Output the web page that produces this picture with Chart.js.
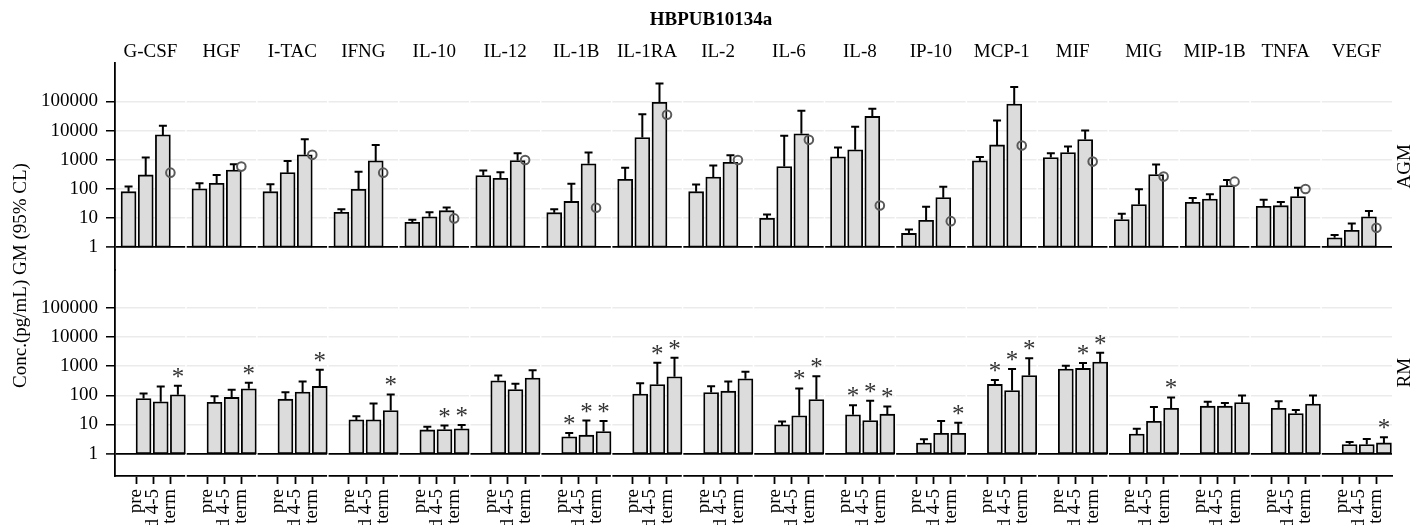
<!DOCTYPE html>
<html><head><meta charset="utf-8">
<script src="https://cdn.jsdelivr.net/npm/chart.js@4.4.1/dist/chart.umd.min.js"></script>
<style>html,body{margin:0;padding:0;background:#fff;} canvas{display:block;}</style>
</head><body>
<canvas id="c" width="1424" height="525"></canvas>
<script>
const chartTitle = 'HBPUB10134a';
const yAxisTitle = 'Conc.(pg/mL) GM (95% CL)';
const categories = ['G-CSF','HGF','I-TAC','IFNG','IL-10','IL-12','IL-1B','IL-1RA','IL-2','IL-6','IL-8','IP-10','MCP-1','MIF','MIG','MIP-1B','TNFA','VEGF'];
const timepoints = ['pre','d 4-5','term'];
const rowLabels = ['AGM','RM'];
const yTickValues = [1,10,100,1000,10000,100000];
const yTickLabels = ['1','10','100','1000','10000','100000'];

// AGM geometric means (pre, d 4-5, term) and upper 95% CL
const agmGM = [[80,300,7100],[100,155,445],[80,360,1470],[15.6,96,910],[7.1,11,17.8],[285,230,935],[15.2,37,720],[213,5750,93000],[80,255,815],[9.7,580,7700],[1250,2180,30500],[2.95,8.3,50],[910,3220,81000],[1180,1770,4930],[8.9,29,310],[34.5,45,129],[25,26.5,54],[2.1,3.8,11]];
const agmUpper = [[120,1180,14500],[155,300,700],[143,910,5040],[20,390,3200],[8.7,15.6,23],[425,370,1660],[20,150,1770],[525,36500,415000],[140,630,1420],[13.3,6600,48000],[2600,13500,56000],[4.06,24.5,119],[1250,22000,310000],[1660,2820,10000],[14,96,680],[48.6,65,200],[42.6,35.5,110],[2.6,6.5,17.3]];
// AGM reference points (circles, at term)
const agmRef = [360,580,1470,360,9.7,980,22.6,35000,980,4800,27,7.8,3080,860,263,177,99,4.6];

// RM geometric means and upper 95% CL
const rmGM = [[78,60,104],[58,85,168],[74,129,202],[14.4,14.4,30],[6.5,6.7,7.1],[316,159,390],[3.8,4.3,5.7],[110,236,435],[125,139,370],[9.7,20,72],[21.4,13.7,22.6],[2.3,5.0,5.0],[237,147,480],[800,840,1380],[4.7,12.9,36],[42.5,42.5,56.8],[36,23.8,50],[2.04,2.04,2.33]];
const rmUpper = [[116,202,213],[94,155,270],[129,300,760],[19.2,52.4,107],[8.3,9.2,9.7],[480,250,720],[5.1,13.7,13.3],[262,1315,1960],[207,300,640],[12.6,172,456],[46,65,41.5],[3.1,13.3,11.4],[334,800,1860],[1040,1280,2900],[7.2,40,85],[60,55,99],[63,31.7,99],[2.5,3.2,3.65]];
// RM significance flags (asterisks)
const rmStar = [[0,0,1],[0,0,1],[0,0,1],[0,0,1],[0,1,1],[0,0,0],[1,1,1],[0,1,1],[0,0,0],[0,1,1],[1,1,1],[0,0,1],[1,1,1],[0,1,1],[0,0,1],[0,0,0],[0,0,0],[0,0,1]];

const FONT = "'Liberation Serif','Times New Roman',serif";
const PANEL = 4.134, FIRST = 1.227;
const Y_MIN = 0.171, Y_MAX = 2.08e6;
const xPos = (p, j) => PANEL * p + FIRST + j;

function barData(gm) {
  const out = [];
  gm.forEach((trip, p) => trip.forEach((v, j) => out.push({x: xPos(p, j), y: [1, v]})));
  return out;
}
const flat = a => a.flat();
const tickPositions = [];
categories.forEach((c, p) => timepoints.forEach((t, j) => tickPositions.push(xPos(p, j))));

const errorBarPlugin = {
  id: 'errorBars',
  afterDatasetDraw(chart, args) {
    const ds = chart.data.datasets[args.index];
    if (!ds.upperValues) return;
    const yScale = chart.scales[ds.yAxisID];
    const ctx = chart.ctx;
    ctx.save();
    ctx.strokeStyle = '#000';
    ctx.lineWidth = 2;
    ctx.fillStyle = '#333';
    ctx.font = '25px ' + FONT;
    ctx.textAlign = 'center';
    ctx.textBaseline = 'alphabetic';
    args.meta.data.forEach((bar, i) => {
      const x = bar.x;
      const yTop = yScale.getPixelForValue(ds.gmValues[i]);
      const yUp = yScale.getPixelForValue(ds.upperValues[i]);
      ctx.beginPath();
      ctx.moveTo(x, yTop); ctx.lineTo(x, yUp);
      ctx.moveTo(x - 4, yUp); ctx.lineTo(x + 4, yUp);
      ctx.stroke();
      if (ds.starFlags && ds.starFlags[i]) ctx.fillText('*', x, yUp - 1);
    });
    ctx.restore();
  }
};

const panelGapPlugin = {
  id: 'panelGaps',
  beforeDatasetsDraw(chart) {
    const xs = chart.scales.x, ca = chart.chartArea, ctx = chart.ctx;
    ctx.save();
    ctx.strokeStyle = '#fff';
    ctx.lineWidth = 1.5;
    for (let p = 1; p < categories.length; p++) {
      const x = xs.getPixelForValue(PANEL * p);
      ctx.beginPath(); ctx.moveTo(x, ca.top); ctx.lineTo(x, ca.bottom + 1); ctx.stroke();
    }
    ctx.restore();
  }
};

const textPlugin = {
  id: 'texts',
  afterDraw(chart) {
    const ctx = chart.ctx, xs = chart.scales.x, ca = chart.chartArea;
    ctx.save();
    ctx.fillStyle = '#000';
    ctx.textAlign = 'center';
    ctx.textBaseline = 'alphabetic';
    ctx.font = 'bold 19px ' + FONT;
    ctx.fillText(chartTitle, 711, 25);
    ctx.font = '19px ' + FONT;
    categories.forEach((c, p) => ctx.fillText(c, xs.getPixelForValue(PANEL * p + PANEL / 2), 57));
    ctx.textBaseline = 'middle';
    const yA = chart.scales.yA, yR = chart.scales.yR;
    [[rowLabels[0], (yA.top + yA.bottom) / 2], [rowLabels[1], (yR.top + yR.bottom) / 2]].forEach(([t, y]) => {
      ctx.save(); ctx.translate(1405, y); ctx.rotate(-Math.PI / 2); ctx.fillText(t, 0, 0); ctx.restore();
    });
    ctx.save(); ctx.translate(21, (ca.top + ca.bottom) / 2 + 6); ctx.rotate(-Math.PI / 2); ctx.fillText(yAxisTitle, 0, 0); ctx.restore();
    ctx.restore();
  }
};

function yScaleCfg(weight) {
  return {
    type: 'logarithmic', position: 'left', stack: 'rows', stackWeight: 1, weight: weight,
    min: Y_MIN, max: Y_MAX,
    afterBuildTicks: s => { s.ticks = yTickValues.map(v => ({value: v})); },
    afterFit: s => { s.width = 115; },
    ticks: {
      autoSkip: false,
      callback: v => { const k = yTickValues.indexOf(v); return k >= 0 ? yTickLabels[k] : ''; },
      padding: 8, color: '#000', font: {size: 19, family: FONT}
    },
    grid: {
      color: c => (c.tick && c.tick.value === 1) ? '#000' : '#ebebeb',
      lineWidth: c => (c.tick && c.tick.value === 1) ? 1.8 : 1.5,
      tickColor: '#000', tickLength: 9, tickWidth: 1.5
    },
    border: {display: true, color: '#000', width: 1.8}
  };
}

const barStyle = {backgroundColor: '#dcdcdc', borderColor: '#000', borderWidth: 1.8, barThickness: 15, borderSkipped: false, order: 1};

new Chart(document.getElementById('c'), {
  type: 'bar',
  data: {
    datasets: [
      Object.assign({label: rowLabels[0], data: barData(agmGM), yAxisID: 'yA', xAxisID: 'x', gmValues: flat(agmGM), upperValues: flat(agmUpper)}, barStyle),
      Object.assign({label: rowLabels[1], data: barData(rmGM), yAxisID: 'yR', xAxisID: 'x', gmValues: flat(rmGM), upperValues: flat(rmUpper), starFlags: flat(rmStar)}, barStyle),
      {type: 'scatter', label: 'ref', yAxisID: 'yA', xAxisID: 'x', order: 0,
       data: agmRef.map((v, p) => ({x: xPos(p, 2), y: v})),
       pointStyle: 'circle', pointRadius: 4.3, pointBorderColor: '#5a5a5a', pointBorderWidth: 2,
       pointBackgroundColor: 'rgba(0,0,0,0)', showLine: false}
    ]
  },
  options: {
    responsive: false, animation: false, devicePixelRatio: 1,
    layout: {padding: {top: 63, right: 32, bottom: 0, left: 0}},
    plugins: {legend: {display: false}, tooltip: {enabled: false}, title: {display: false}},
    scales: {
      x: {
        type: 'linear', position: 'bottom', min: 0, max: PANEL * categories.length, offset: false,
        afterBuildTicks: s => { s.ticks = tickPositions.map(v => ({value: v})); },
        afterFit: s => { s.height = 49; },
        ticks: {autoSkip: false, minRotation: 90, maxRotation: 90, padding: 5, color: '#000',
                font: {size: 19, family: FONT}, callback: (v, i) => timepoints[i % 3]},
        grid: {drawOnChartArea: false, offset: false, tickLength: 8, tickColor: '#000', tickWidth: 1.8},
        border: {display: true, color: '#000', width: 1.8}
      },
      yA: yScaleCfg(2),
      yR: yScaleCfg(1)
    }
  },
  plugins: [panelGapPlugin, errorBarPlugin, textPlugin]
});
</script>
</body></html>
